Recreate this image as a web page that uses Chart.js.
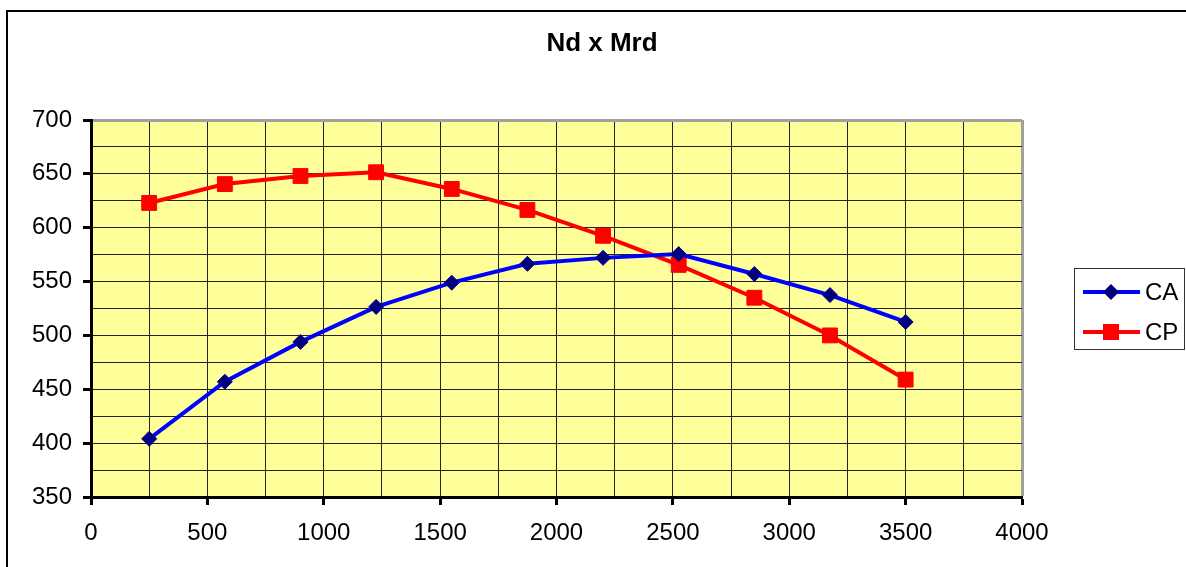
<!DOCTYPE html>
<html><head><meta charset="utf-8">
<script src="https://cdn.jsdelivr.net/npm/chart.js@4/dist/chart.umd.min.js"></script>
<style>html,body{margin:0;padding:0;background:#fff;} #wrap{position:relative;width:1186px;height:567px;} canvas{display:block;}</style>
</head><body><div id="wrap"><canvas id="c" width="1186" height="567"></canvas></div>
<script>
const titleText = 'Nd x Mrd';
const seriesNames = ['CA', 'CP'];
const xValues = [250, 575, 900, 1225, 1550, 1875, 2200, 2525, 2850, 3175, 3500];
const caValues = [404, 457, 494, 526.5, 549, 566.5, 572, 575.5, 557, 537.5, 512.5];
const cpValues = [623, 640.5, 648, 651.5, 636, 616.5, 592.5, 565.5, 535, 500, 459];
const xTickLabels = [0, 500, 1000, 1500, 2000, 2500, 3000, 3500, 4000];
const yTickLabels = [350, 400, 450, 500, 550, 600, 650, 700];

const FONT = "'Liberation Sans', Arial, sans-serif";
const caColor = '#0000FF', caMarker = '#000080';
const cpColor = '#FF0000';

const pts = (ys) => xValues.map((x, i) => ({ x: x, y: ys[i] }));

const decor = {
  id: 'decor',
  beforeDraw(chart) {
    const c = chart.ctx;
    c.save();
    c.fillStyle = '#fff';
    c.fillRect(0, 0, chart.width, chart.height);
    const a = chart.chartArea;
    c.fillStyle = '#FFFF99';
    c.fillRect(a.left, a.top, a.right - a.left, a.bottom - a.top);
    c.strokeStyle = '#000';
    c.lineWidth = 2;
    c.beginPath();
    c.moveTo(7, 567);
    c.lineTo(7, 11);
    c.lineTo(1186, 11);
    c.stroke();
    c.restore();
  },
  afterDraw(chart) {
    const c = chart.ctx;
    c.save();
    c.fillStyle = '#000';
    c.font = 'bold 26px ' + FONT;
    c.textAlign = 'center';
    c.textBaseline = 'middle';
    c.fillText(titleText, 602, 44);
    c.strokeStyle = '#333';
    c.lineWidth = 1;
    c.strokeRect(1074.5, 268.5, 110, 81);
    const rows = [
      { name: seriesNames[0], y: 292, line: caColor, marker: 'diamond' },
      { name: seriesNames[1], y: 332, line: cpColor, marker: 'square' }
    ];
    rows.forEach(r => {
      c.strokeStyle = r.line;
      c.lineWidth = 4;
      c.beginPath();
      c.moveTo(1083, r.y);
      c.lineTo(1140, r.y);
      c.stroke();
      if (r.marker === 'diamond') {
        c.fillStyle = caMarker;
        c.beginPath();
        c.moveTo(1111, r.y - 8);
        c.lineTo(1119, r.y);
        c.lineTo(1111, r.y + 8);
        c.lineTo(1103, r.y);
        c.closePath();
        c.fill();
      } else {
        c.fillStyle = cpColor;
        c.fillRect(1103, r.y - 8, 16, 16);
      }
      c.fillStyle = '#000';
      c.font = '24px ' + FONT;
      c.textAlign = 'left';
      c.textBaseline = 'middle';
      c.fillText(r.name, 1145, r.y + 1);
    });
    c.restore();
  }
};

const isMajorX = v => xTickLabels.includes(v);
const isMajorY = v => yTickLabels.includes(v);

new Chart(document.getElementById('c'), {
  type: 'line',
  data: {
    datasets: [
      {
        label: seriesNames[0], data: pts(caValues),
        borderColor: caColor, borderWidth: 4, tension: 0,
        pointStyle: 'rectRot', pointRadius: 7.5,
        pointBackgroundColor: caMarker, pointBorderColor: caMarker, pointBorderWidth: 1
      },
      {
        label: seriesNames[1], data: pts(cpValues),
        borderColor: cpColor, borderWidth: 4, tension: 0,
        pointStyle: 'rect', pointRadius: 10.5,
        pointBackgroundColor: cpColor, pointBorderColor: cpColor, pointBorderWidth: 1
      }
    ]
  },
  options: {
    responsive: false, animation: false, devicePixelRatio: 1,
    layout: { padding: { left: 0, top: 120, right: 164, bottom: 0 } },
    plugins: { legend: { display: false }, title: { display: false }, tooltip: { enabled: false } },
    scales: {
      x: {
        type: 'linear', min: 0, max: 4000,
        afterFit: s => { s.height = 70; },
        ticks: {
          stepSize: 250, autoSkip: false, maxRotation: 0, padding: 14,
          color: '#000', font: { family: FONT, size: 24 },
          callback: v => isMajorX(v) ? String(v) : ''
        },
        grid: {
          color: ctx => ctx.tick && ctx.tick.value === 4000 ? '#a0a0a0' : '#222',
          lineWidth: ctx => ctx.tick && ctx.tick.value === 4000 ? 3 : 1,
          tickLength: 8,
          tickColor: ctx => ctx.tick && isMajorX(ctx.tick.value) ? '#000' : 'rgba(0,0,0,0)',
          tickWidth: 3
        },
        border: { color: '#000', width: 3 }
      },
      y: {
        type: 'linear', min: 350, max: 700,
        afterFit: s => { s.width = 91; },
        ticks: {
          stepSize: 25, autoSkip: false, padding: 11,
          color: '#000', font: { family: FONT, size: 24 },
          callback: v => isMajorY(v) ? String(v) : ''
        },
        grid: {
          color: ctx => ctx.tick && ctx.tick.value === 700 ? '#a0a0a0' : '#222',
          lineWidth: ctx => ctx.tick && ctx.tick.value === 700 ? 3 : 1,
          tickLength: 8,
          tickColor: ctx => ctx.tick && isMajorY(ctx.tick.value) ? '#000' : 'rgba(0,0,0,0)',
          tickWidth: 3
        },
        border: { color: '#000', width: 3 }
      }
    }
  },
  plugins: [decor]
});
</script>
</body></html>
